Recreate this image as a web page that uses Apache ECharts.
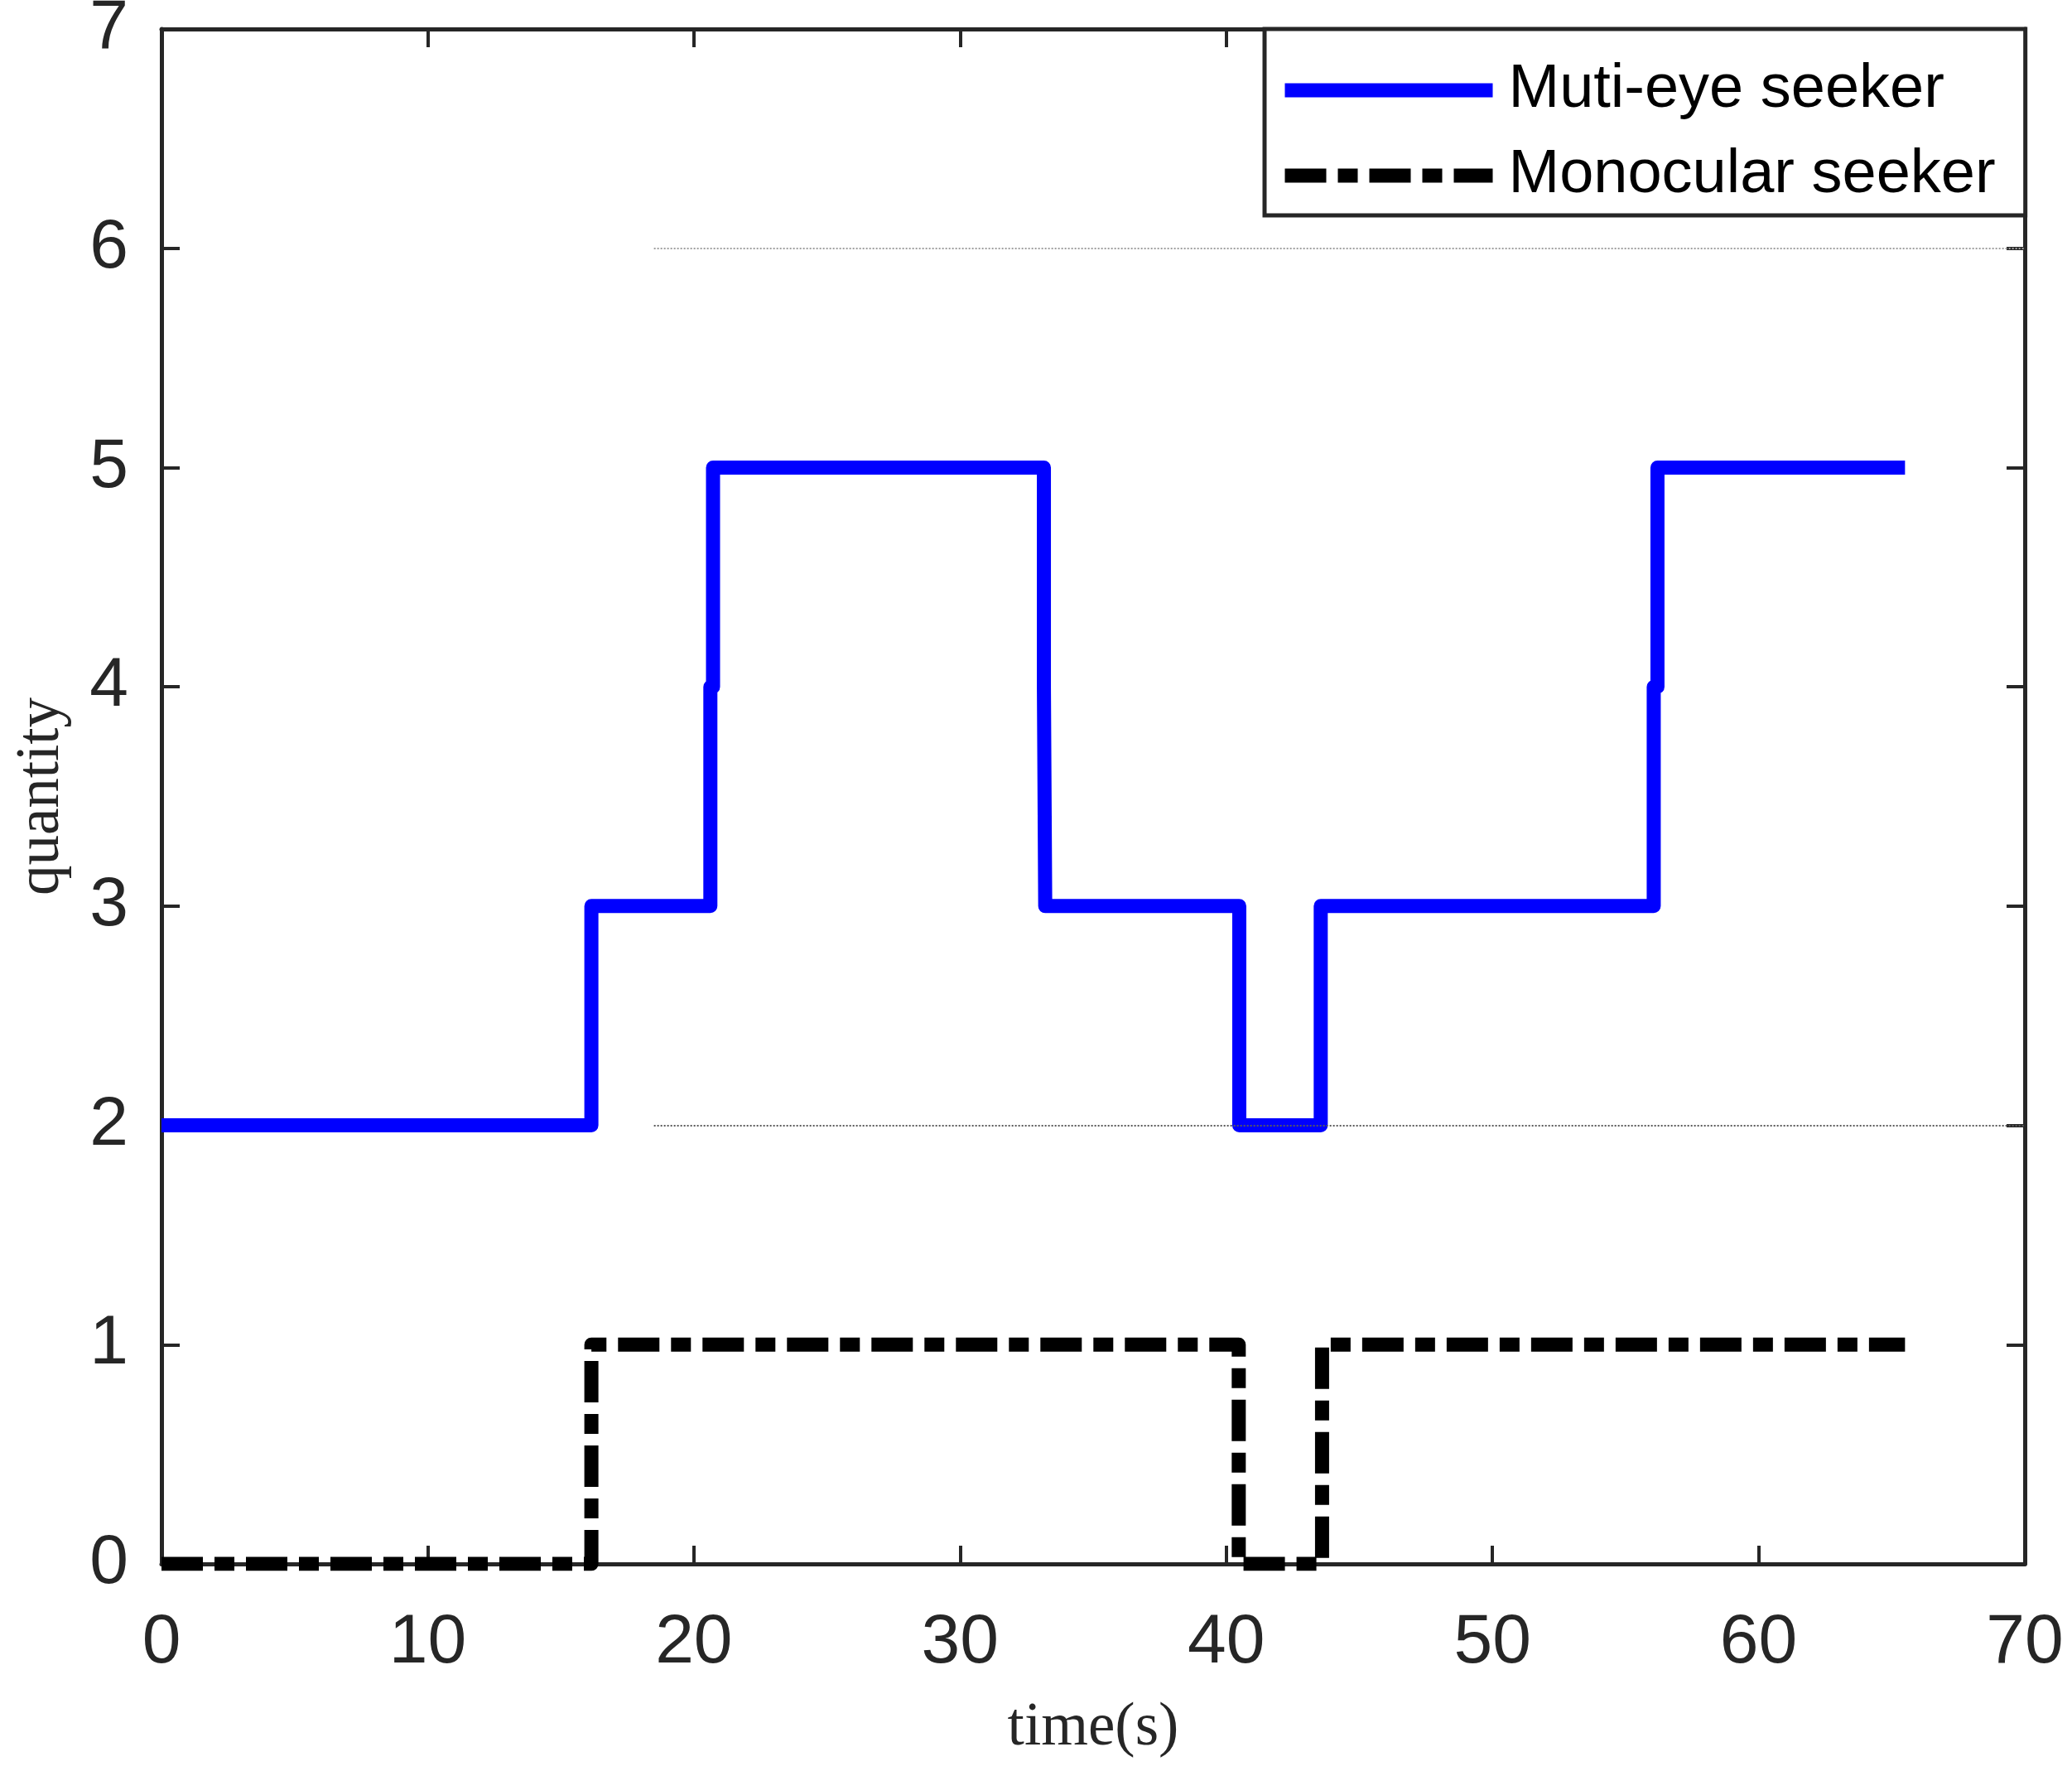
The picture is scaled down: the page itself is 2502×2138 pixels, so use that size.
<!DOCTYPE html>
<html>
<head>
<meta charset="utf-8">
<title>quantity vs time</title>
<script src="https://cdn.jsdelivr.net/npm/echarts/dist/echarts.min.js"></script>
<style>
  html, body { margin: 0; padding: 0; background: #fff; }
  #chart { width: 2502px; height: 2138px; }
</style>
</head>
<body>
<div id="chart"></div>
<script>
// 多目导引头数量 (阶跃点 [时间, 数量])
const multiEyePoints = [
  [0, 2], [16.15, 3], [20.62, 4], [20.72, 5], [33.15, 4], [33.2, 3],
  [40.49, 2], [43.55, 3], [56.06, 4], [56.2, 5], [65.5, 5]
]
// 单目导引头数量
const monocularPoints = [
  [0, 0], [16.15, 1], [40.47, 0], [43.6, 1], [65.5, 1]
]
const xTicks = [0, 10, 20, 30, 40, 50, 60, 70]
const yTicks = [0, 1, 2, 3, 4, 5, 6, 7]
// 图中的灰色细线
const refLineYs = [6, 2]
const refLineColors = ['#a0a0a0', '#5a5a5a']
const refLineStart = 18.5

const axisColor = '#262626'
const sansFont = 'Arial, "Liberation Sans", Helvetica, sans-serif'
const serifFont = '"Times New Roman", "Liberation Serif", serif'

const chart = echarts.init(document.getElementById('chart'))

const boxAxis = (extra) => Object.assign({
  type: 'value',
  axisLine: { show: true, onZero: false, lineStyle: { color: axisColor, width: 5 } },
  axisTick: { show: true, inside: true, length: 22, lineStyle: { color: axisColor, width: 4 } },
  splitLine: { show: false }
}, extra)

const option = {
  backgroundColor: '#fff',
  animation: false,
  grid: { left: 195, right: 57, top: 35, bottom: 250, outerBoundsMode: 'none', containLabel: false },
  legend: {
    orient: 'vertical',
    left: 1527,
    top: 35,
    padding: [34, 36, 8, 16],
    itemGap: 23,
    itemWidth: 251,
    itemHeight: 16,
    borderColor: axisColor,
    borderWidth: 5,
    backgroundColor: '#fff',
    itemStyle: { opacity: 0 },
    textStyle: { fontFamily: sansFont, fontSize: 74, color: '#000', lineHeight: 80, padding: [0, 0, 0, 14] },
    data: [
      { name: 'Muti-eye seeker', lineStyle: { width: 17 } },
      { name: 'Monocular seeker', lineStyle: { width: 17 } }
    ]
  },
  xAxis: [
    boxAxis({
      min: xTicks[0], max: xTicks[xTicks.length - 1], interval: 10,
      position: 'bottom',
      name: 'time(s)', nameLocation: 'middle', nameGap: 162,
      nameTextStyle: { fontFamily: serifFont, fontSize: 73, color: axisColor },
      axisLabel: { fontFamily: sansFont, fontSize: 84, color: axisColor, margin: 54 }
    }),
    boxAxis({
      min: xTicks[0], max: xTicks[xTicks.length - 1], interval: 10,
      position: 'top',
      axisLabel: { show: false }
    })
  ],
  yAxis: [
    boxAxis({
      min: yTicks[0], max: yTicks[yTicks.length - 1], interval: 1,
      position: 'left',
      name: 'quantity', nameLocation: 'middle', nameGap: 108,
      nameTextStyle: { fontFamily: serifFont, fontSize: 73, color: axisColor },
      axisLabel: { fontFamily: sansFont, fontSize: 84, color: axisColor, margin: 40 }
    }),
    boxAxis({
      min: yTicks[0], max: yTicks[yTicks.length - 1], interval: 1,
      position: 'right',
      axisLabel: { show: false }
    })
  ],
  series: [
    {
      name: 'refLines',
      type: 'line',
      data: [],
      z: 1,
      silent: true,
      markLine: {
        silent: true,
        symbol: ['none', 'none'],
        label: { show: false },
        lineStyle: { width: 2, type: 'dotted' },
        data: refLineYs.map((y, i) => [
          { coord: [refLineStart, y], lineStyle: { color: refLineColors[i] } },
          { coord: [xTicks[xTicks.length - 1], y] }
        ])
      }
    },
    {
      name: 'Muti-eye seeker',
      type: 'line',
      step: 'end',
      data: multiEyePoints,
      symbol: 'none',
      z: 3,
      lineStyle: { color: '#0000ff', width: 17, cap: 'butt', join: 'round' },
      itemStyle: { color: '#0000ff' }
    },
    {
      name: 'Monocular seeker',
      type: 'line',
      step: 'end',
      data: monocularPoints,
      symbol: 'none',
      z: 3,
      lineStyle: { color: '#000', width: 17, type: [50, 14, 24, 14], cap: 'butt', join: 'round' },
      itemStyle: { color: '#000' }
    }
  ]
}

chart.setOption(option)
</script>
</body>
</html>
